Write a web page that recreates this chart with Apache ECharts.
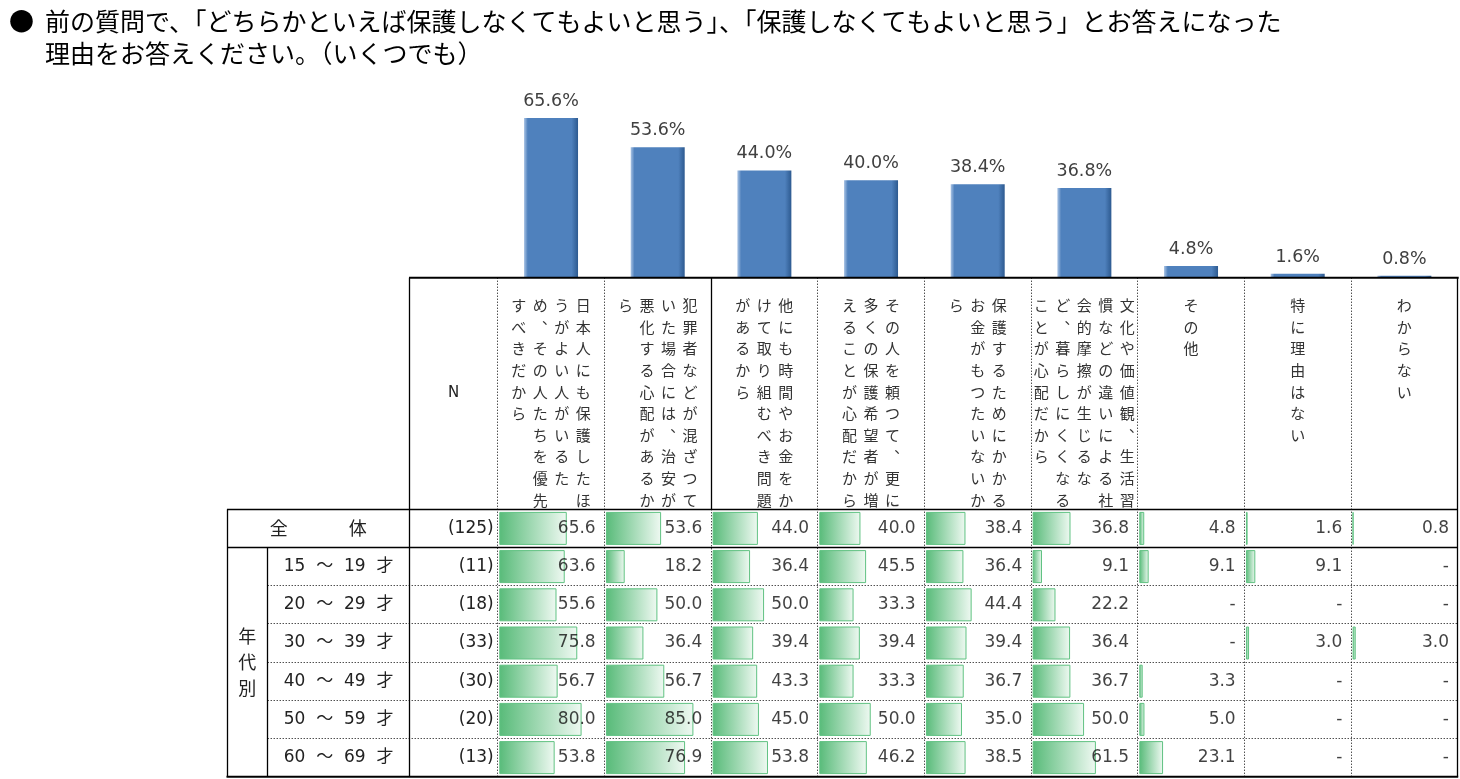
<!DOCTYPE html>
<html><head><meta charset="utf-8">
<script src="https://cdn.jsdelivr.net/npm/echarts@6.0.0/dist/echarts.min.js"></script>
<style>html,body{margin:0;padding:0;background:#fff}#c{width:1460px;height:779px}</style>
</head><body><div id="c"></div>
<script>
// ---------- DATA ----------
const titleLine1 = '前の質問で、「どちらかといえば保護しなくてもよいと思う」、「保護しなくてもよいと思う」とお答えになった';
const titleLine2 = '理由をお答えください。（いくつでも）';
// category header text, as printed (vertical columns, right to left)
const headerLines = [
  ['日本人にも保護したほ', 'うがよい人がいるた', 'め、その人たちを優先', 'すべきだから'],
  ['犯罪者などが混ざつて', 'いた場合には、治安が', '悪化する心配があるか', 'ら'],
  ['他にも時間やお金をか', 'けて取り組むべき問題', 'があるから'],
  ['その人を頼つて、更に', '多くの保護希望者が増', 'えることが心配だから'],
  ['保護するためにかかる', 'お金がもつたいないか', 'ら'],
  ['文化や価値観、生活習', '慣などの違いによる社', '会的摩擦が生じるな', 'ど、暮らしにくくなる', 'ことが心配だから'],
  ['その他'],
  ['特に理由はない'],
  ['わからない']
];
const categories = headerLines.map(l => l.join(''));
const topValues = [65.6, 53.6, 44.0, 40.0, 38.4, 36.8, 4.8, 1.6, 0.8];
const groupLabel = '年代別';
const rowLabels = ['全体', '15 ～ 19 才', '20 ～ 29 才', '30 ～ 39 才', '40 ～ 49 才', '50 ～ 59 才', '60 ～ 69 才'];
const rowN = [125, 11, 18, 33, 30, 20, 13];
const rowAll = [65.6, 53.6, 44.0, 40.0, 38.4, 36.8, 4.8, 1.6, 0.8];
const row15 = [63.6, 18.2, 36.4, 45.5, 36.4, 9.1, 9.1, 9.1, null];
const row20 = [55.6, 50.0, 50.0, 33.3, 44.4, 22.2, null, null, null];
const row30 = [75.8, 36.4, 39.4, 39.4, 39.4, 36.4, null, 3.0, 3.0];
const row40 = [56.7, 56.7, 43.3, 33.3, 36.7, 36.7, 3.3, null, null];
const row50 = [80.0, 85.0, 45.0, 50.0, 35.0, 50.0, 5.0, null, null];
const row60 = [53.8, 76.9, 53.8, 46.2, 38.5, 61.5, 23.1, null, null];
const tableRows = [rowAll, row15, row20, row30, row40, row50, row60];

// ---------- LAYOUT ----------
const L = {
  tableLeft: 227, ageRight: 267.7, nLeft: 409.5, dataLeft: 497.7, dataRight: 1457.7,
  barTop: 107.3, headerTop: 277.7, headerBottom: 509.3, tableBottom: 776.7
};
const NCOL = topValues.length, NROW = tableRows.length;
const colW = (L.dataRight - L.dataLeft) / NCOL;
const rowH = (L.tableBottom - L.headerBottom) / NROW;
const NUM_FONT = '"DejaVu Sans", "Noto Sans CJK JP", sans-serif';
const JP_FONT = '"Noto Sans CJK JP", sans-serif';

const chart = echarts.init(document.getElementById('c'));

const grids = [{ left: L.dataLeft, top: L.barTop, width: L.dataRight - L.dataLeft, height: L.headerTop - L.barTop }];
const xAxes = [{ type: 'category', gridIndex: 0, data: categories, show: false }];
const yAxes = [{ type: 'value', gridIndex: 0, min: 0, max: 70, show: false }];
const series = [{
  type: 'bar', xAxisIndex: 0, yAxisIndex: 0, data: topValues, barWidth: 54, silent: true,
  itemStyle: {
    color: new echarts.graphic.LinearGradient(0, 0, 1, 0, [
      { offset: 0, color: '#a9c3e4' }, { offset: 0.07, color: '#4f81bd' },
      { offset: 0.88, color: '#4f81bd' }, { offset: 1, color: '#2d5a90' }])
  },
  label: {
    show: true, position: 'top', distance: 8, color: '#404040',
    fontFamily: NUM_FONT, fontSize: 17.5, formatter: p => p.value.toFixed(1) + '%'
  }
}];

for (let c = 0; c < NCOL; c++) {
  grids.push({ left: L.dataLeft + c * colW + 1.6, top: L.headerBottom, width: colW - 3.8, height: NROW * rowH });
  xAxes.push({ type: 'value', gridIndex: c + 1, min: 0, max: 100, show: false });
  yAxes.push({ type: 'category', gridIndex: c + 1, data: rowLabels, inverse: true, show: false });
  series.push({
    type: 'bar', xAxisIndex: c + 1, yAxisIndex: c + 1, silent: true, barWidth: 33,
    data: tableRows.map(r => r[c]),
    itemStyle: {
      color: new echarts.graphic.LinearGradient(0, 0, 1, 0, [
        { offset: 0, color: '#58bb79' }, { offset: 1, color: '#eff9f2' }]),
      borderColor: '#60c282', borderWidth: 1
    }
  });
  series.push({
    type: 'scatter', xAxisIndex: c + 1, yAxisIndex: c + 1, silent: true, symbolSize: 1,
    itemStyle: { color: 'rgba(0,0,0,0)' }, z: 5,
    data: tableRows.map((r, i) => [100, i]),
    label: {
      show: true, position: 'left', distance: 6, color: '#111', fontFamily: NUM_FONT, fontSize: 17,
      formatter: p => { const v = tableRows[p.dataIndex][c]; return v == null ? '-' : v.toFixed(1); }
    }
  });
}

// ---------- TABLE TEXT & LINES ----------
const g = [];
g.push({ type: 'text', x: 9, y: 21, style: { text: '●', font: '25px ' + JP_FONT, fill: '#000', textVerticalAlign: 'middle' } });
g.push({ type: 'text', x: 45, y: 21, style: { text: titleLine1, font: '25px ' + JP_FONT, fill: '#000', textVerticalAlign: 'middle' } });
g.push({ type: 'text', x: 45, y: 53, style: { text: titleLine2, font: '25px ' + JP_FONT, fill: '#000', textVerticalAlign: 'middle' } });

// header vertical texts
const CH = 21.6, CW = 21.5, firstCharTop = 294.7;
headerLines.forEach((lines, c) => {
  const cx = L.dataLeft + (c + 0.5) * colW;
  const n = lines.length;
  lines.forEach((line, j) => {
    const x = cx + ((n - 1) / 2 - j) * CW;
    const txt = Array.from(line.replace(/、/g, '︑')).join('\n');
    g.push({ type: 'text', x: x, y: firstCharTop, style: {
      text: txt, font: '15px ' + JP_FONT, fill: '#333', textAlign: 'center', textVerticalAlign: 'top', lineHeight: CH } });
  });
});
g.push({ type: 'text', x: (L.nLeft + L.dataLeft) / 2, y: (L.headerTop + L.headerBottom) / 2, style: {
  text: 'N', font: '15px ' + NUM_FONT, fill: '#222', textAlign: 'center', textVerticalAlign: 'middle' } });

// row labels and N
rowLabels.forEach((lab, i) => {
  const cy = L.headerBottom + (i + 0.5) * rowH;
  if (i === 0) {
    g.push({ type: 'text', x: (L.tableLeft + L.nLeft) / 2, y: cy, style: {
      text: '{a|' + lab[0] + '}{s| }{a|' + lab[1] + '}', textAlign: 'center', textVerticalAlign: 'middle',
      rich: { a: { font: '18px ' + JP_FONT, fill: '#222' }, s: { width: 61, font: '18px ' + JP_FONT } } } });
  } else {
    g.push({ type: 'text', x: (L.ageRight + L.nLeft) / 2, y: cy, style: {
      text: lab.replace(/ /g, '  '), font: '17px ' + NUM_FONT, fill: '#222', textAlign: 'center', textVerticalAlign: 'middle' } });
  }
  g.push({ type: 'text', x: L.dataLeft - 4, y: cy, style: {
    text: '(' + rowN[i] + ')', font: '17px ' + NUM_FONT, fill: '#222', textAlign: 'right', textVerticalAlign: 'middle' } });
});
g.push({ type: 'text', x: (L.tableLeft + L.ageRight) / 2, y: L.headerBottom + rowH + (NROW - 1) * rowH / 2, style: {
  text: Array.from(groupLabel).join('\n'), font: '18px ' + JP_FONT, fill: '#222', textAlign: 'center', textVerticalAlign: 'middle', lineHeight: 26 } });

function line(x1, y1, x2, y2, w, dash) {
  g.push({ type: 'line', z: 10, shape: { x1, y1, x2, y2 }, style: { stroke: '#000', lineWidth: w || 1, lineDash: dash ? [1, 2] : null } });
}
const r5 = v => Math.round(v - 0.5) + 0.5;
// solid structure
line(L.nLeft - 0.5, L.headerTop, L.dataRight + 1, L.headerTop, 2);
line(r5(L.nLeft), L.headerTop, r5(L.nLeft), L.tableBottom, 1.3);
line(r5(L.dataRight), L.headerTop, r5(L.dataRight), L.tableBottom, 1.3);
line(L.tableLeft, r5(L.headerBottom), L.dataRight, r5(L.headerBottom), 1.3);
line(L.tableLeft, r5(L.headerBottom + rowH), L.dataRight, r5(L.headerBottom + rowH), 1.3);
line(L.tableLeft - 0.5, L.tableBottom, L.dataRight + 0.5, L.tableBottom, 2);
line(r5(L.tableLeft), L.headerBottom, r5(L.tableLeft), L.tableBottom, 1.3);
line(r5(L.ageRight), L.headerBottom + rowH, r5(L.ageRight), L.tableBottom, 1.3);
// column separators
for (let c = 0; c < NCOL; c++) {
  const x = r5(L.dataLeft + c * colW);
  if (c === 2) { line(x, L.headerTop, x, L.headerBottom, 1.3); line(x, L.headerBottom, x, L.tableBottom, 1, true); }
  else line(x, L.headerTop, x, L.tableBottom, 1, true);
}
// dotted row separators
for (let k = 2; k < NROW; k++) {
  const y = r5(L.headerBottom + k * rowH);
  line(L.ageRight, y, L.dataRight, y, 1, true);
}

chart.setOption({
  animation: false,
  backgroundColor: '#fff',
  grid: grids, xAxis: xAxes, yAxis: yAxes, series: series, graphic: g
});
</script></body></html>
